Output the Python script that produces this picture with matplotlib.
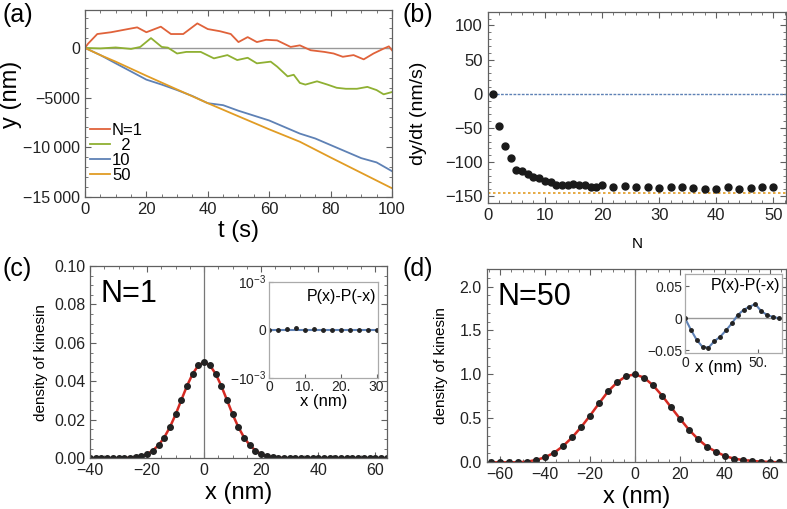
import matplotlib
matplotlib.use('Agg')
import matplotlib.pyplot as plt
from matplotlib.ticker import MultipleLocator

plt.rcParams['font.family'] = ['Liberation Sans', 'DejaVu Sans']
plt.rcParams['mathtext.default'] = 'regular'

RED = '#e0623a'
GREEN = '#8fb032'
BLUE = '#5e81b5'
ORANGE = '#e19c24'
FRAME = '#606060'

# (a) trajectories y(t)
t_n1 = [0, 1, 4, 8.5, 14, 17, 20, 24.7, 28, 32, 36.6, 40, 44, 47.5, 50, 53, 56, 59, 62.6,
        67, 70, 73.5, 78, 81, 84, 87.5, 90.8, 94, 97.3, 99, 100]
y_n1 = [0, 430, 1400, 1580, 1900, 2070, 1580, 2140, 1400, 1400, 2470, 1900, 1680, 1400, 590,
        1090, 590, 820, 760, 100, 260, -230, -400, -560, -890, -720, -1150, -560, -70, 160, -230]
t_n2 = [0, 5, 10, 15, 18, 21.5, 25, 27, 30, 33, 37.7, 42, 46.4, 49.6, 53, 56, 60.5, 62.6, 66,
        68, 70, 71.8, 75.6, 79, 82, 85, 88.6, 92, 95, 97.3, 100]
y_n2 = [0, -50, 50, -100, 100, 990, 100, 30, -560, -400, -400, -1050, -720, -1220, -990, -1550,
        -1380, -1880, -2860, -2700, -3520, -3690, -3360, -3690, -4010, -4110, -4110, -3920,
        -4240, -4670, -4440]
t_n10 = [0, 5, 10, 15, 20, 25, 30, 35, 40, 45, 50, 55, 60, 65, 70, 75, 80, 85, 90, 95, 100]
y_n10 = [0, -720, -1550, -2370, -3190, -3690, -4240, -4840, -5560, -5760, -6320, -6810, -7300,
         -7960, -8620, -9110, -9770, -10430, -11090, -11520, -12400]
t_n50 = [0, 5, 10, 20, 30, 40, 50, 60, 70, 80, 90, 100]
y_n50 = [0, -720, -1380, -2800, -4180, -5560, -6880, -8190, -9440, -11020, -12570, -14120]

# (b) mean velocity vs N
N_vals = [1, 2, 3, 4, 5, 6, 7, 8, 9, 10, 11, 12, 13, 14, 15, 16, 17, 18, 19, 20,
          22, 24, 26, 28, 30, 32, 34, 36, 38, 40, 42, 44, 46, 48, 50]
v_vals = [0, -48, -77, -94, -111, -113, -117, -122, -123, -128, -130, -133, -134, -133, -132,
          -134, -133, -136, -136, -134, -136, -135, -136, -136, -138, -137, -137, -138, -139,
          -139, -137, -139, -138, -137, -137]
v_free = 0
v_limit = -145

# (c) density N=1
x_c = [-40, -38, -36, -34, -32, -30, -28, -26, -24, -22, -20, -18, -16, -14, -12, -10, -8, -6,
       -4, -2, 0, 2, 4, 6, 8, 10, 12, 14, 16, 18, 20, 22, 24, 26, 28, 30, 32, 34, 36, 38, 40,
       42, 44, 46, 48, 50, 52, 54, 56, 58, 60, 62, 64]
p_c = [0, 0, 0, 0, 0, 0, 0.0001, 0.0003, 0.0006, 0.0011, 0.0022, 0.0040, 0.0068, 0.0108,
       0.0162, 0.0228, 0.0303, 0.0377, 0.0440, 0.0484, 0.0499, 0.0484, 0.0440, 0.0377, 0.0303,
       0.0228, 0.0162, 0.0108, 0.0068, 0.0040, 0.0022, 0.0011, 0.0006, 0.0003, 0.0001, 0, 0, 0,
       0, 0, 0, 0, 0, 0, 0, 0, 0, 0, 0, 0, 0, 0, 0]
x_c_in = [0, 2.5, 5, 7.5, 10, 12.5, 15, 17.5, 20, 22.5, 25, 27.5, 30]
d_c_in = [0, 0, 2e-5, 3e-5, 0, 1e-5, 0, 0, 0, 0, 0, 0, 0]

# (d) density N=50
x_d = [-64, -60, -56, -52, -48, -44, -40, -36, -32, -28, -24, -20, -16, -12, -8, -4, 0,
       4, 8, 12, 16, 20, 24, 28, 32, 36, 40, 44, 48, 52, 56, 60, 64]
p_d = [0, 0, 0, 0, 0.007, 0.026, 0.057, 0.109, 0.185, 0.283, 0.400, 0.532, 0.672, 0.807,
       0.909, 0.981, 1.0, 0.963, 0.875, 0.759, 0.626, 0.494, 0.369, 0.264, 0.177, 0.120,
       0.071, 0.041, 0.026, 0.015, 0.008, 0.003, 0]
x_d_in = [0, 4, 8, 12, 16, 20, 24, 28, 32, 36, 40, 44, 48, 52, 56, 60, 64]
d_d_in = [0, -0.018, -0.034, -0.045, -0.046, -0.036, -0.029, -0.019, -0.008, 0.005, 0.013,
          0.018, 0.022, 0.011, 0.005, 0.002, 0]


def frame(ax, size=11):
    for s in ax.spines.values():
        s.set_color(FRAME)
        s.set_linewidth(0.9)
    ax.tick_params(which='both', direction='in', top=True, right=True, color=FRAME,
                   labelsize=size, labelcolor='#222222')
    ax.tick_params(which='major', length=4)
    ax.tick_params(which='minor', length=2)


fig = plt.figure(figsize=(7.87, 5.09), dpi=100)

# ---- (a)
ax = fig.add_axes([0.108, 0.613, 0.390, 0.367])
ax.axhline(0, color='#999999', lw=1)
ax.plot(t_n1, y_n1, color=RED, lw=1.3, label='N=1')
ax.plot(t_n2, y_n2, color=GREEN, lw=1.3, label='  2')
ax.plot(t_n10, y_n10, color=BLUE, lw=1.3, label='10')
ax.plot(t_n50, y_n50, color=ORANGE, lw=1.3, label='50')
ax.set_xlim(0, 100)
ax.set_ylim(-15000, 3800)
ax.set_xticks([0, 20, 40, 60, 80, 100])
ax.set_yticks([0, -5000, -10000, -15000])
ax.set_yticklabels(['0', '\u22125000', '\u221210\u2009000', '\u221215\u2009000'])
ax.xaxis.set_minor_locator(MultipleLocator(5))
ax.yaxis.set_minor_locator(MultipleLocator(1000))
frame(ax, 11.5)
ax.tick_params(axis='x', labelsize=12)
ax.set_xlabel('t (s)', fontsize=17, labelpad=2)
ax.set_ylabel('y (nm)', fontsize=17)
ax.yaxis.set_label_coords(-0.205, 0.55)
ax.legend(loc='lower left', bbox_to_anchor=(-0.01, 0.03), frameon=False, fontsize=12,
          handlelength=1.2, handletextpad=0.1, labelspacing=0.0, borderpad=0)
fig.text(0.003, 0.995, '(a)', fontsize=18, va='top')

# ---- (b)
ax = fig.add_axes([0.6197, 0.6012, 0.379, 0.3758])
ax.axhline(v_free, color=BLUE, lw=1, ls=(0, (2, 1)))
ax.axhline(v_limit, color=ORANGE, lw=1.2, ls=(0, (1.5, 1.5)))
ax.plot(N_vals, v_vals, 'o', color='#1a1a1a', ms=5)
ax.set_xlim(0, 52.2)
ax.set_ylim(-160, 120)
ax.set_xticks([0, 10, 20, 30, 40, 50])
ax.set_yticks([100, 50, 0, -50, -100, -150])
ax.xaxis.set_minor_locator(MultipleLocator(2))
ax.yaxis.set_minor_locator(MultipleLocator(10))
frame(ax, 12)
ax.set_xlabel('N', fontsize=11, labelpad=10)
ax.set_ylabel('dy/dt (nm/s)', fontsize=14)
ax.yaxis.set_label_coords(-0.205, 0.47)
fig.text(0.512, 0.995, '(b)', fontsize=18, va='top')

# ---- (c)
ax = fig.add_axes([0.1144, 0.0996, 0.377, 0.3778])
ax.axvline(0, color='#777777', lw=0.9)
ax.plot(x_c, p_c, color='#d42a22', lw=1.8)
ax.plot(x_c, p_c, 'o', color='#222222', ms=4)
ax.set_xlim(-40, 64)
ax.set_ylim(0, 0.1)
ax.set_xticks([-40, -20, 0, 20, 40, 60])
ax.set_yticks([0, 0.02, 0.04, 0.06, 0.08, 0.10])
ax.set_yticklabels(['0.00', '0.02', '0.04', '0.06', '0.08', '0.10'])
ax.xaxis.set_minor_locator(MultipleLocator(5))
ax.yaxis.set_minor_locator(MultipleLocator(0.005))
frame(ax, 11.5)
ax.set_xlabel('x (nm)', fontsize=17, labelpad=3)
ax.set_ylabel('density of kinesin', fontsize=11, labelpad=4)
ax.text(0.035, 0.93, 'N=1', transform=ax.transAxes, fontsize=22, va='top')
fig.text(0.003, 0.495, '(c)', fontsize=18, va='top')

axi = fig.add_axes([0.3418, 0.2580, 0.1389, 0.1886])
axi.axhline(0, color=BLUE, lw=1.5)
axi.plot(x_c_in, d_c_in, 'o', color='#222222', ms=2.5)
axi.set_xlim(0, 30.5)
axi.set_ylim(-1e-3, 1e-3)
axi.set_xticks([0, 10, 20, 30])
axi.set_xticklabels(['0', '10.', '20.', '30'])
axi.set_yticks([1e-3, 0, -1e-3])
axi.set_yticklabels(['$10^{-3}$', '0', '\u2212$10^{-3}$'])
frame(axi, 10)
for s in axi.spines.values():
    s.set_color('#aaaaaa')
axi.tick_params(right=False, top=False, length=3, pad=2)
axi.set_xlabel('x (nm)', fontsize=12, labelpad=0)
axi.text(0.98, 0.92, 'P(x)-P(-x)', transform=axi.transAxes, fontsize=11.5, ha='right', va='top')

# ---- (d)
ax = fig.add_axes([0.6184, 0.0918, 0.380, 0.3798])
ax.axvline(0, color='#777777', lw=0.9)
ax.plot(x_d, p_d, color='#d42a22', lw=1.8)
ax.plot(x_d, p_d, 'o', color='#222222', ms=4)
ax.set_xlim(-66, 67)
ax.set_ylim(0, 2.2)
ax.set_xticks([-60, -40, -20, 0, 20, 40, 60])
ax.set_yticks([0, 0.5, 1.0, 1.5, 2.0])
ax.xaxis.set_minor_locator(MultipleLocator(5))
ax.yaxis.set_minor_locator(MultipleLocator(0.1))
frame(ax, 11.5)
ax.set_xlabel('x (nm)', fontsize=17, labelpad=3)
ax.set_ylabel('density of kinesin', fontsize=11, labelpad=8)
ax.text(0.035, 0.93, 'N=50', transform=ax.transAxes, fontsize=22, va='top')
fig.text(0.512, 0.495, '(d)', fontsize=18, va='top')

axi = fig.add_axes([0.8704, 0.3070, 0.1229, 0.1546])
axi.axhline(0, color='#999999', lw=1)
axi.plot(x_d_in, d_d_in, color=BLUE, lw=1.5)
axi.plot(x_d_in, d_d_in, 'o', color='#222222', ms=2.5)
axi.set_xlim(0, 66)
axi.set_ylim(-0.054, 0.069)
axi.set_xticks([0, 50])
axi.set_xticklabels(['0', '50.'])
axi.set_yticks([0.05, 0, -0.05])
axi.set_yticklabels(['0.05', '0', '\u22120.05'])
frame(axi, 10)
for s in axi.spines.values():
    s.set_color('#aaaaaa')
axi.tick_params(right=False, top=False, length=3, pad=2)
axi.text(0.35, -0.09, 'x (nm)', transform=axi.transAxes, fontsize=12, ha='center', va='top')
axi.text(0.98, 0.95, 'P(x)-P(-x)', transform=axi.transAxes, fontsize=11.5, ha='right', va='top')

fig.savefig('out.png', dpi=100)
